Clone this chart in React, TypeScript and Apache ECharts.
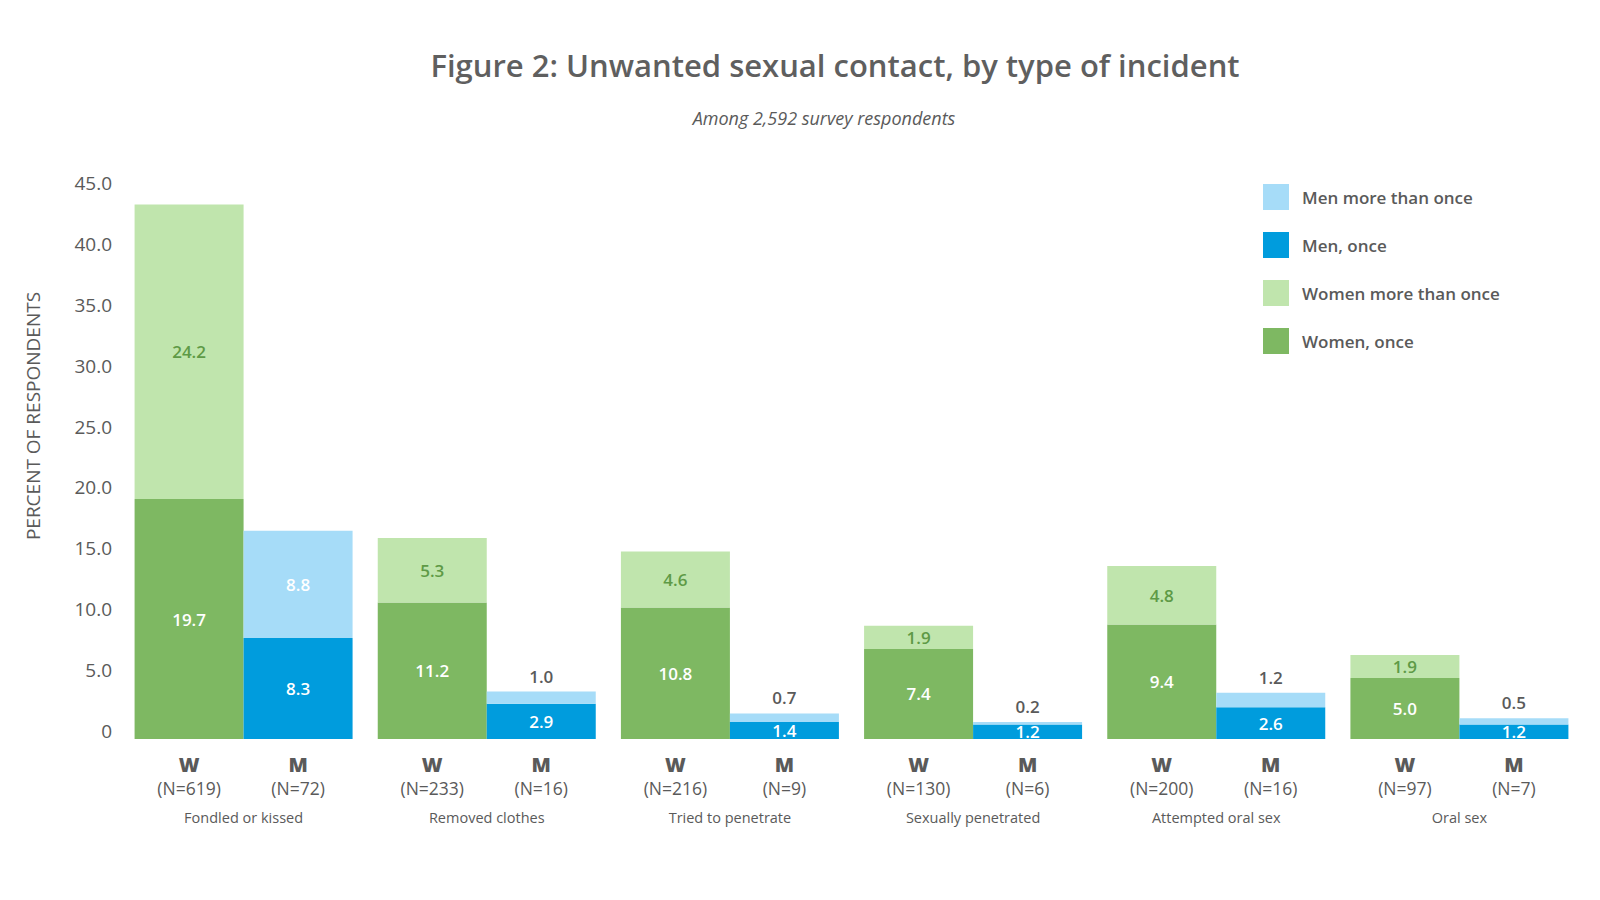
import React, { useEffect, useRef } from "react";
import * as echarts from "echarts";

const categories = [
  "Fondled or kissed",
  "Removed clothes",
  "Tried to penetrate",
  "Sexually penetrated",
  "Attempted oral sex",
  "Oral sex",
];
const womenOnce = [19.7, 11.2, 10.8, 7.4, 9.4, 5.0];
const womenMore = [24.2, 5.3, 4.6, 1.9, 4.8, 1.9];
const menOnce = [8.3, 2.9, 1.4, 1.2, 2.6, 1.2];
const menMore = [8.8, 1.0, 0.7, 0.2, 1.2, 0.5];
const womenN = [619, 233, 216, 130, 200, 97];
const menN = [72, 16, 9, 6, 16, 7];
const legendOrder = ["Men more than once", "Men, once", "Women more than once", "Women, once"];

const FONT = '"Open Sans", "Noto Sans", sans-serif';
const TXT = "#5a5a5a";
const BAR_W = 109;

export default function App() {
  const ref = useRef<HTMLDivElement>(null);
  useEffect(() => {
    if (!ref.current) return;
    const chart = echarts.init(ref.current, null, { renderer: "svg" });
    const fmt = (p: any) => Number(p.value).toFixed(1);
    const option: any = {
      animation: false,
      backgroundColor: "#ffffff",
      textStyle: { fontFamily: FONT },
      grid: { left: 122, right: 19, top: 191, bottom: 161, containLabel: false },
      legend: {
        orient: "vertical",
        left: 1258,
        top: 179,
        itemWidth: 26,
        itemHeight: 26,
        itemGap: 22,
        icon: "rect",
        data: legendOrder,
        selectedMode: false,
        textStyle: { fontFamily: FONT, fontSize: 17, color: TXT, fontWeight: 600, padding: [0, 0, 0, 8] },
      },
      graphic: [
        {
          type: "text",
          x: 835,
          y: 65,
          style: {
            text: "Figure 2: Unwanted sexual contact, by type of incident",
            fontFamily: FONT,
            fontSize: 31,
            fontWeight: 600,
            fill: "#5f5f5f",
            textAlign: "center",
            verticalAlign: "middle",
            textVerticalAlign: "middle",
          },
        },
        {
          type: "text",
          x: 824,
          y: 118,
          style: {
            text: "Among 2,592 survey respondents",
            fontFamily: FONT,
            fontSize: 18,
            fontStyle: "italic",
            fill: TXT,
            textAlign: "center",
            verticalAlign: "middle",
            textVerticalAlign: "middle",
          },
        },
        {
          type: "text",
          x: 33,
          y: 416,
          rotation: Math.PI / 2,
          style: {
            text: "PERCENT OF RESPONDENTS",
            fontFamily: FONT,
            fontSize: 19,
            fill: TXT,
            textAlign: "center",
            verticalAlign: "middle",
            textVerticalAlign: "middle",
          },
        },
      ],
      xAxis: {
        type: "category",
        data: categories,
        axisLine: { show: false },
        axisTick: { show: false },
        axisLabel: {
          interval: 0,
          margin: 13,
          formatter: (v: string, i: number) =>
            `{w|W}{m|M}\n{wn|(N=${womenN[i]})}{mn|(N=${menN[i]})}\n{c|${v}}`,
          rich: {
            w: { fontFamily: FONT, fontSize: 20, fontWeight: 800, color: TXT, width: BAR_W, align: "center", lineHeight: 24 },
            m: { fontFamily: FONT, fontSize: 20, fontWeight: 800, color: TXT, width: BAR_W, align: "center", lineHeight: 24 },
            wn: { fontFamily: FONT, fontSize: 17.5, color: TXT, width: BAR_W, align: "center", lineHeight: 24 },
            mn: { fontFamily: FONT, fontSize: 17.5, color: TXT, width: BAR_W, align: "center", lineHeight: 24 },
            c: { fontFamily: FONT, fontSize: 14.5, color: TXT, lineHeight: 34 },
          },
        },
      },
      yAxis: {
        type: "value",
        min: 0,
        max: 45,
        interval: 5,
        splitLine: { show: false },
        axisLine: { show: false },
        axisTick: { show: false },
        axisLabel: {
          fontFamily: FONT,
          fontSize: 19,
          color: TXT,
          margin: 10,
          verticalAlign: "bottom",
          lineHeight: 16,
          formatter: (v: number) => (v === 0 ? "0" : v.toFixed(1)),
        },
      },
      series: [
        {
          name: "Women, once",
          type: "bar",
          stack: "W",
          barWidth: BAR_W,
          barGap: "0%",
          data: womenOnce,
          itemStyle: { color: "#7eb862" },
          label: { show: true, position: "inside", color: "#ffffff", fontSize: 17, fontWeight: 600, fontFamily: FONT, formatter: fmt },
        },
        {
          name: "Women more than once",
          type: "bar",
          stack: "W",
          barWidth: BAR_W,
          barGap: "0%",
          data: womenMore,
          itemStyle: { color: "#c0e5ad" },
          label: { show: true, position: "inside", color: "#5e9a46", fontSize: 17, fontWeight: 600, fontFamily: FONT, formatter: fmt },
        },
        {
          name: "Men, once",
          type: "bar",
          stack: "M",
          barWidth: BAR_W,
          barGap: "0%",
          data: menOnce,
          itemStyle: { color: "#009cdd" },
          label: { show: true, position: "inside", color: "#ffffff", fontSize: 17, fontWeight: 600, fontFamily: FONT, formatter: fmt },
        },
        {
          name: "Men more than once",
          type: "bar",
          stack: "M",
          barWidth: BAR_W,
          barGap: "0%",
          data: menMore.map((v) =>
            v < 2
              ? { value: v, label: { position: "top", distance: 7, color: TXT } }
              : { value: v }
          ),
          itemStyle: { color: "#a6dcf8" },
          label: { show: true, position: "inside", color: "#ffffff", fontSize: 17, fontWeight: 600, fontFamily: FONT, formatter: fmt },
        },
      ],
    };
    chart.setOption(option);
    return () => chart.dispose();
  }, []);
  return (
    <div
      ref={ref}
      style={{ position: "absolute", left: 0, top: 0, width: 1600, height: 900, background: "#fff" }}
    />
  );
}
